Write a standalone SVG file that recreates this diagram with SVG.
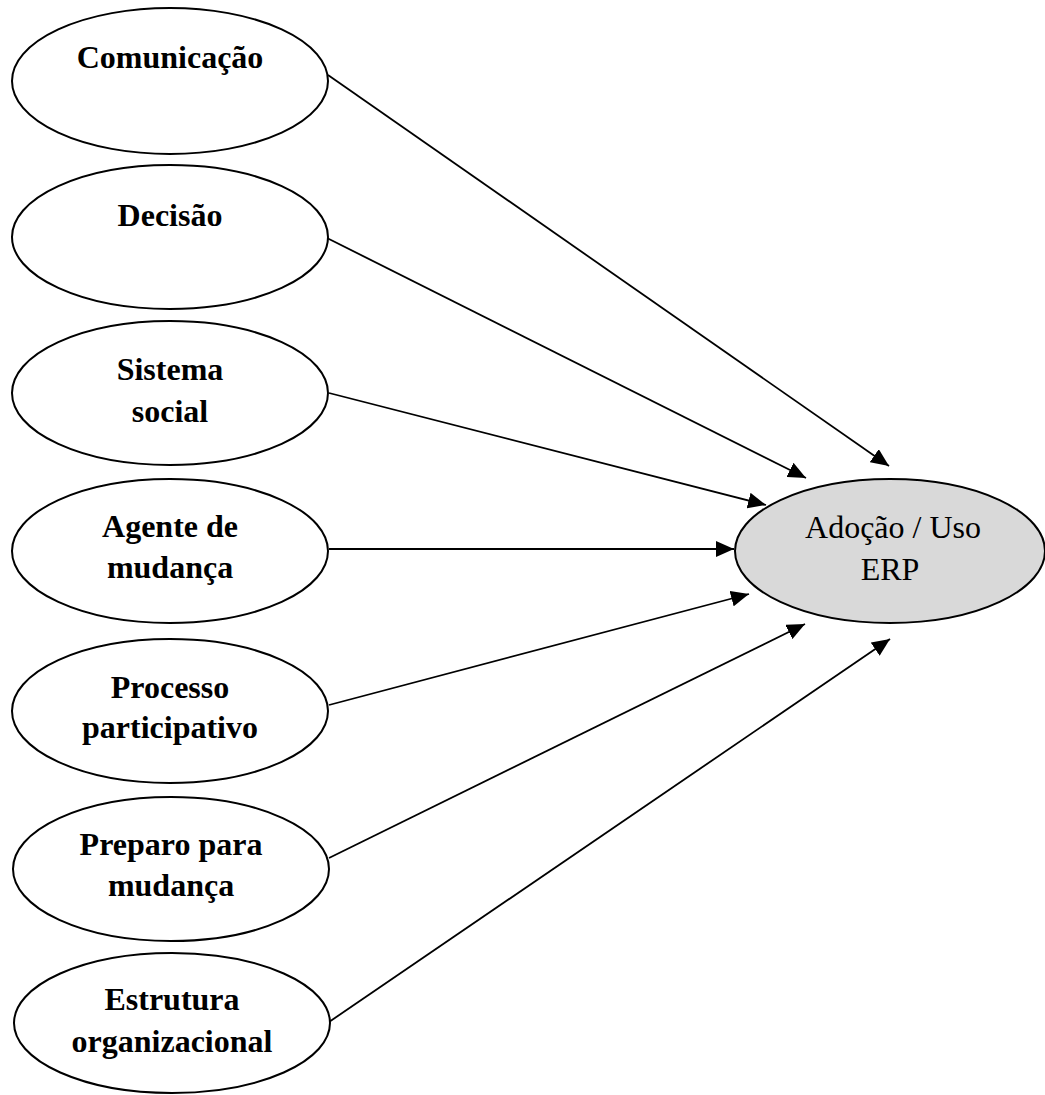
<svg xmlns="http://www.w3.org/2000/svg" width="1045" height="1095" viewBox="0 0 1045 1095">
  <style>
    .factor { fill: #ffffff; stroke: #000000; stroke-width: 2; }
    .outcome { fill: #d9d9d9; stroke: #000000; stroke-width: 2; }
    .lbl { font-family: "Liberation Serif", "Times New Roman", serif; font-size: 32px; font-weight: bold; text-anchor: middle; fill: #000000; }
    .lbl-out { font-family: "Liberation Serif", "Times New Roman", serif; font-size: 32px; text-anchor: middle; fill: #000000; }
    .edge { stroke: #000000; stroke-width: 1.8; fill: none; marker-end: url(#arrow); }
  </style>
  <defs>
    <marker id="arrow" markerUnits="userSpaceOnUse" markerWidth="18" markerHeight="16" refX="18" refY="8" orient="auto">
      <path d="M0,0 L18,8 L0,16 Z" fill="#000000"/>
    </marker>
  </defs>
  <rect width="1045" height="1095" fill="#ffffff"/>

  <!-- connectors: each factor points to the outcome -->
  <g id="connectors">
    <line class="edge" x1="328" y1="75" x2="889" y2="466"/>
    <line class="edge" x1="327" y1="238" x2="806" y2="478"/>
    <line class="edge" x1="329" y1="393" x2="766" y2="505"/>
    <line class="edge" x1="329" y1="549" x2="734" y2="549"/>
    <line class="edge" x1="329" y1="705" x2="749" y2="594"/>
    <line class="edge" x1="329" y1="858" x2="805" y2="624"/>
    <line class="edge" x1="329" y1="1022" x2="890" y2="639"/>
  </g>

  <g id="comunicacao">
    <ellipse class="factor" cx="170" cy="81" rx="158" ry="73"/>
    <text class="lbl" x="170" y="68">Comunicação</text>
  </g>
  <g id="decisao">
    <ellipse class="factor" cx="170" cy="237" rx="158" ry="72"/>
    <text class="lbl" x="170" y="226">Decisão</text>
  </g>
  <g id="sistema-social">
    <ellipse class="factor" cx="170" cy="393" rx="158" ry="72"/>
    <text class="lbl" x="170" y="380">Sistema</text>
    <text class="lbl" x="170" y="422">social</text>
  </g>
  <g id="agente-mudanca">
    <ellipse class="factor" cx="170" cy="551" rx="158" ry="72"/>
    <text class="lbl" x="170" y="537">Agente de</text>
    <text class="lbl" x="170" y="578">mudança</text>
  </g>
  <g id="processo-participativo">
    <ellipse class="factor" cx="170" cy="711" rx="158" ry="72"/>
    <text class="lbl" x="170" y="698">Processo</text>
    <text class="lbl" x="170" y="738">participativo</text>
  </g>
  <g id="preparo-mudanca">
    <ellipse class="factor" cx="171" cy="869" rx="158" ry="72"/>
    <text class="lbl" x="171" y="855">Preparo para</text>
    <text class="lbl" x="171" y="896">mudança</text>
  </g>
  <g id="estrutura-organizacional">
    <ellipse class="factor" cx="172" cy="1023" rx="158" ry="70"/>
    <text class="lbl" x="172" y="1010">Estrutura</text>
    <text class="lbl" x="172" y="1052">organizacional</text>
  </g>

  <g id="adocao-uso-erp">
    <ellipse class="outcome" cx="890" cy="551" rx="155" ry="72"/>
    <text class="lbl-out" x="893" y="538">Adoção / Uso</text>
    <text class="lbl-out" x="890" y="580">ERP</text>
  </g>
</svg>
